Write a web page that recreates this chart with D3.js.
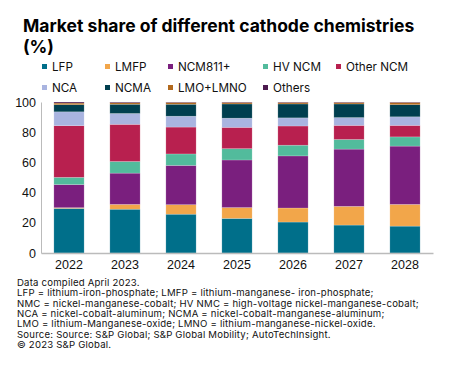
<!DOCTYPE html>
<html>
<head>
<meta charset="utf-8">
<script src="https://cdn.jsdelivr.net/npm/d3@7"></script>
<style>
  body { margin: 0; background: #fff; }
  svg { font-family: "Inter", "Liberation Sans", sans-serif; }
</style>
</head>
<body>
<div id="chart"></div>
<script>
const years = ['2022', '2023', '2024', '2025', '2026', '2027', '2028']
const chemistries = ['LFP', 'LMFP', 'NCM811+', 'HV NCM', 'Other NCM', 'NCA', 'NCMA', 'LMO+LMNO', 'Others']
const colors = ['#006f8a', '#f2a64a', '#7a1f7e', '#52bb9c', '#b8204f', '#a9b4e0', '#003f4f', '#b2691d', '#4d1a4f']

// percent share per chemistry, one value per year
const lfp      = [29.5, 29.0, 25.7, 22.9, 20.5, 18.5, 17.8]
const lmfp     = [0.5, 3.2, 6.3, 7.2, 9.3, 12.4, 14.4]
const ncm811   = [15.3, 20.7, 26.0, 31.5, 34.5, 37.9, 38.6]
const hvNcm    = [4.8, 7.7, 7.6, 7.5, 7.1, 6.4, 6.1]
const otherNcm = [34.2, 24.6, 17.8, 14.1, 12.7, 9.3, 7.6]
const nca      = [9.2, 7.2, 7.2, 6.1, 5.4, 5.2, 5.7]
const ncma     = [4.7, 6.1, 7.9, 9.4, 9.2, 9.0, 8.0]
const lmo      = [1.1, 1.0, 1.2, 1.0, 1.0, 1.0, 1.5]
const others   = [0.7, 0.5, 0.3, 0.3, 0.3, 0.3, 0.3]

const yTicks = [0, 20, 40, 60, 80, 100]

const footnotes = [
  'Data compiled April 2023.',
  'LFP = lithium-iron-phosphate; LMFP = lithium-manganese- iron-phosphate;',
  'NMC = nickel-manganese-cobalt; HV NMC = high-voltage nickel-manganese-cobalt;',
  'NCA = nickel-cobalt-aluminum; NCMA = nickel-cobalt-manganese-aluminum;',
  'LMO = lithium-Manganese-oxide; LMNO = lithium-manganese-nickel-oxide.',
  'Source: Source: S&P Global; S&P Global Mobility; AutoTechInsight.',
  '\u00a9 2023 S&P Global.'
]

const series = [lfp, lmfp, ncm811, hvNcm, otherNcm, nca, ncma, lmo, others]

const rows = years.map(function(yr, i) {
  var row = { year: yr }
  chemistries.forEach(function(c, j) { row[c] = series[j][i] })
  return row
})

const width = 461, height = 374
const margin = { top: 102, right: 28, bottom: 119, left: 41 }

var svg = d3.select('#chart')
  .append('svg')
  .attr('width', width)
  .attr('height', height)

// title
var title = svg.append('text')
  .attr('x', 23)
  .attr('y', 32)
  .attr('font-size', 17.5)
  .attr('font-weight', 700)
  .attr('fill', '#000')
title.append('tspan').attr('x', 23).text('Market share of different cathode chemistries')
title.append('tspan').attr('x', 23).attr('dy', 21).text('(%)')

// legend
const legendCols = [42, 105, 168, 263, 336]
var legend = svg.append('g')
  .selectAll('g')
  .data(chemistries)
  .enter()
  .append('g')
  .attr('transform', function(d, i) {
    return 'translate(' + legendCols[i % 5] + ',' + (i < 5 ? 66.5 : 87.5) + ')'
  })

legend.append('rect')
  .attr('x', 0).attr('y', -2.5)
  .attr('width', 5).attr('height', 5)
  .attr('fill', function(d, i) { return colors[i] })

legend.append('text')
  .attr('x', 10)
  .attr('dy', '0.35em')
  .attr('font-size', 11.7)
  .attr('fill', '#111')
  .text(function(d) { return d })

// scales
var x = d3.scaleBand()
  .domain(years)
  .range([margin.left, width - margin.right])
  .paddingInner(0.46)
  .paddingOuter(0.23)

var y = d3.scaleLinear()
  .domain([0, 100])
  .range([height - margin.bottom - 2, margin.top])

var stack = d3.stack().keys(chemistries)(rows)

svg.append('g')
  .selectAll('g')
  .data(stack)
  .enter()
  .append('g')
  .attr('fill', function(d, i) { return colors[i] })
  .selectAll('rect')
  .data(function(d) { return d })
  .enter()
  .append('rect')
  .attr('x', function(d) { return x(d.data.year) })
  .attr('width', x.bandwidth())
  .attr('y', function(d) { return y(d[1]) })
  .attr('height', function(d) { return y(d[0]) - y(d[1]) })
  .attr('stroke', '#fff')
  .attr('stroke-opacity', 0.3)
  .attr('stroke-width', 0.6)

// axes
var yAxis = svg.append('g')
  .attr('transform', 'translate(' + margin.left + ',0)')
  .call(d3.axisLeft(y).tickValues(yTicks).tickSize(0).tickPadding(5))
yAxis.select('.domain').attr('stroke', '#bbb')
yAxis.selectAll('text').attr('font-size', 12.5).attr('fill', '#111').attr('font-family', null)

var xAxis = svg.append('g')
  .attr('transform', 'translate(0,' + y(0) + ')')
  .call(d3.axisBottom(x).tickSize(0).tickPadding(7))
xAxis.select('.domain').attr('stroke', '#bbb').attr('stroke-width', 1.5)
xAxis.selectAll('text').attr('font-size', 12.5).attr('fill', '#111').attr('font-family', null)

// footnotes
svg.append('g')
  .selectAll('text')
  .data(footnotes)
  .enter()
  .append('text')
  .attr('x', 17)
  .attr('y', function(d, i) { return 286 + i * 10.35 })
  .attr('font-size', 9.6)
  .attr('letter-spacing', 0.2)
  .attr('fill', '#111')
  .text(function(d) { return d })
</script>
</body>
</html>
